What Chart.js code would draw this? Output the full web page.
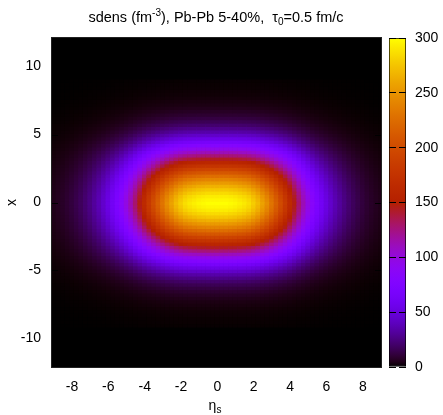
<!DOCTYPE html>
<html>
<head>
<meta charset="utf-8">
<script src="https://cdn.jsdelivr.net/npm/chart.js@4.4.1/dist/chart.umd.min.js"></script>
<style>
	body { margin: 0; background: #fff; }
	#wrap { position: relative; width: 443px; height: 415px; font-family: 'Liberation Sans', Arial, sans-serif; color: #000; }
	canvas { position: absolute; top: 0; }
	#title { position: absolute; left: 0; top: 10px; width: 432px; text-align: center; font-size: 14.5px; line-height: 15px; white-space: pre; }
	#xlab { position: absolute; left: 0; top: 398px; width: 430px; text-align: center; font-size: 14px; line-height: 14px; }
	.sup { position: relative; top: -6px; font-size: 10px; }
	.sub { position: relative; top: 3px; font-size: 10px; }
</style>
</head>
<body>
<div id="wrap">
	<canvas id="heatChart" width="443" height="415" style="left:0"></canvas>
	<canvas id="barChart" width="63" height="415" style="left:380px"></canvas>
	<div id="title">sdens (fm<span class="sup">-3</span>), Pb-Pb 5-40%,  τ<span class="sub">0</span>=0.5 fm/c</div>
	<div id="xlab">η<span class="sub">s</span></div>
</div>
<script>
// entropy density at the centre (fm^-3)
const peak = 300

// relative profile along eta_s (x = 0), eta_s = -9 .. 9, step 0.25
const etaProfile = [
	0.016, 0.02, 0.025, 0.031, 0.039, 0.048, 0.059, 0.072, 0.087, 0.105, 0.125, 0.148,
	0.175, 0.205, 0.24, 0.28, 0.325, 0.375, 0.43, 0.49, 0.55, 0.61, 0.665, 0.72,
	0.77, 0.82, 0.86, 0.9, 0.93, 0.955, 0.97, 0.98, 0.99, 0.995, 1.0, 1.0,
	1.0,
	1.0, 1.0, 0.995, 0.99, 0.98, 0.97, 0.955, 0.93, 0.9, 0.86, 0.82, 0.77,
	0.72, 0.665, 0.61, 0.55, 0.49, 0.43, 0.375, 0.325, 0.28, 0.24, 0.205, 0.175,
	0.148, 0.125, 0.105, 0.087, 0.072, 0.059, 0.048, 0.039, 0.031, 0.025, 0.02, 0.016,
]

// relative profile along x (eta_s = 0), x = -12 .. 12, step 0.25
const xProfile = [
	0, 0, 0, 0, 0, 0, 0, 0, 0, 0, 0, 0,
	0.001, 0.0015, 0.002, 0.003, 0.004, 0.006, 0.009, 0.012, 0.017, 0.023, 0.031, 0.041,
	0.054, 0.07, 0.09, 0.115, 0.145, 0.18, 0.22, 0.265, 0.315, 0.37, 0.425, 0.48,
	0.535, 0.59, 0.645, 0.7, 0.755, 0.8, 0.845, 0.885, 0.92, 0.95, 0.975, 0.99,
	1.0,
	0.99, 0.975, 0.95, 0.92, 0.885, 0.845, 0.8, 0.755, 0.7, 0.645, 0.59, 0.535,
	0.48, 0.425, 0.37, 0.315, 0.265, 0.22, 0.18, 0.145, 0.115, 0.09, 0.07, 0.054,
	0.041, 0.031, 0.023, 0.017, 0.012, 0.009, 0.006, 0.004, 0.003, 0.002, 0.0015, 0.001,
	0, 0, 0, 0, 0, 0, 0, 0, 0, 0, 0, 0,
]

const etaTicks = [-8, -6, -4, -2, 0, 2, 4, 6, 8]
const xTicks = [-10, -5, 0, 5, 10]
const cbTicks = [0, 50, 100, 150, 200, 250, 300]

// gnuplot default pm3d palette (rgbformulae 7,5,15)
function palette(t) {
	t = Math.min(1, Math.max(0, t))
	const r = Math.sqrt(t)
	const g = t * t * t
	const b = Math.max(0, Math.sin(2 * Math.PI * t))
	return `rgb(${Math.round(255 * r)},${Math.round(255 * g)},${Math.round(255 * b)})`
}

Chart.defaults.font.family = "'Liberation Sans', Arial, sans-serif"
Chart.defaults.font.size = 14
Chart.defaults.color = '#000'

window.addEventListener('DOMContentLoaded', () => {
	// grid cells
	const cells = []
	const cellColors = []
	etaProfile.forEach((fe, i) => {
		const eta = -9 + 0.25 * i
		xProfile.forEach((fx, j) => {
			const xv = -12 + 0.25 * j
			cells.push({ x: eta, y: xv })
			cellColors.push(palette((peak * fe * fx) / 300))
		})
	})

	// black under the map, frame with inward ticks like gnuplot
	const frame = {
		id: 'frame',
		beforeDatasetsDraw(chart) {
			const { ctx, chartArea: a } = chart
			ctx.save()
			ctx.fillStyle = '#000'
			ctx.fillRect(a.left, a.top, a.right - a.left, a.bottom - a.top)
			ctx.restore()
		},
		afterDraw(chart) {
			const { ctx, chartArea: a, scales } = chart
			ctx.save()
			ctx.strokeStyle = '#000'
			ctx.lineWidth = 1
			ctx.beginPath()
			scales.x.ticks.forEach((t) => {
				const px = Math.round(scales.x.getPixelForValue(t.value)) + 0.5
				ctx.moveTo(px, a.bottom)
				ctx.lineTo(px, a.bottom - 6)
				ctx.moveTo(px, a.top)
				ctx.lineTo(px, a.top + 6)
			})
			scales.y.ticks.forEach((t) => {
				const py = Math.round(scales.y.getPixelForValue(t.value)) + 0.5
				ctx.moveTo(a.left, py)
				ctx.lineTo(a.left + 6, py)
				ctx.moveTo(a.right, py)
				ctx.lineTo(a.right - 6, py)
			})
			ctx.stroke()
			ctx.strokeStyle = '#222'
			ctx.strokeRect(a.left - 0.5, a.top - 0.5, a.right - a.left + 1, a.bottom - a.top + 1)
			ctx.restore()
		},
	}

	// Density map
	new Chart(document.getElementById('heatChart').getContext('2d'), {
		type: 'scatter',
		data: {
			datasets: [
				{
					data: cells,
					pointStyle: 'rect',
					pointRadius: 3.8,
					pointHoverRadius: 3.8,
					pointBorderWidth: 0,
					pointBackgroundColor: cellColors,
					clip: 0,
				},
			],
		},
		options: {
			responsive: false,
			animation: false,
			events: [],
			layout: {
				padding: { top: 38, right: 62, left: 0, bottom: 0 },
			},
			plugins: {
				legend: { display: false },
				tooltip: { enabled: false },
			},
			scales: {
				x: {
					type: 'linear',
					min: -9.1,
					max: 9.0,
					afterBuildTicks: (s) => {
						s.ticks = etaTicks.map((v) => ({ value: v }))
					},
					afterFit: (s) => {
						s.height = 48
					},
					grid: { display: false, drawTicks: false },
					border: { display: false },
					ticks: { padding: 12, maxRotation: 0 },
				},
				y: {
					type: 'linear',
					min: -12.1,
					max: 12.1,
					afterBuildTicks: (s) => {
						s.ticks = xTicks.map((v) => ({ value: v }))
					},
					afterFit: (s) => {
						s.width = 52
					},
					grid: { display: false, drawTicks: false },
					border: { display: false },
					ticks: { padding: 11 },
					title: { display: true, text: 'x', font: { size: 14 } },
				},
			},
		},
		plugins: [frame],
	})

	// Colour box
	new Chart(document.getElementById('barChart').getContext('2d'), {
		type: 'bar',
		data: {
			labels: [''],
			datasets: [
				{
					data: [[cbTicks[0], cbTicks[cbTicks.length - 1]]],
					backgroundColor: (c) => {
						const { chart } = c
						if (!chart.chartArea) return '#000'
						const y = chart.scales.y
						const g = chart.ctx.createLinearGradient(0, y.getPixelForValue(0), 0, y.getPixelForValue(300))
						for (let i = 0; i <= 60; i++) {
							g.addColorStop(i / 60, palette(i / 60))
						}
						return g
					},
					borderColor: '#000',
					borderWidth: 1,
					borderSkipped: false,
					barPercentage: 1,
					categoryPercentage: 1,
				},
			],
		},
		options: {
			responsive: false,
			animation: false,
			events: [],
			layout: {
				padding: { top: 38, right: 0, left: 9, bottom: 48 },
			},
			plugins: {
				legend: { display: false },
				tooltip: { enabled: false },
			},
			scales: {
				x: { display: false },
				y: {
					position: 'right',
					min: 0,
					max: 300,
					afterBuildTicks: (s) => {
						s.ticks = cbTicks.map((v) => ({ value: v }))
					},
					afterFit: (s) => {
						s.width = 37
					},
					grid: { color: '#000', drawTicks: false, z: 1 },
					border: { display: false, dash: [7, 3] },
					ticks: { padding: 9 },
				},
			},
		},
	})
})
</script>
</body>
</html>
